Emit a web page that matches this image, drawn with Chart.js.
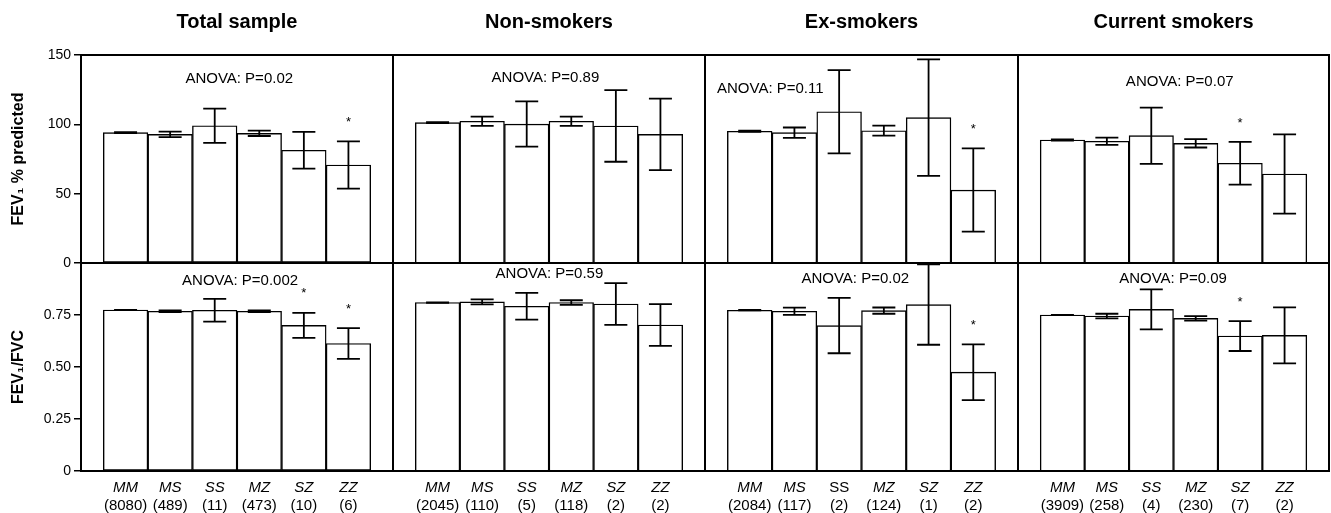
<!DOCTYPE html>
<html>
<head>
<meta charset="utf-8">
<script src="https://cdn.jsdelivr.net/npm/chart.js@4.4.1/dist/chart.umd.min.js"></script>
<style>
  body { margin: 0; background: #fff; width: 1331px; height: 513px; overflow: hidden; position: relative; }
  canvas { position: absolute; }
</style>
</head>
<body>
<canvas id="t0" width="394" height="276" style="left:0;top:0"></canvas>
<canvas id="t1" width="314" height="276" style="left:392px;top:0"></canvas>
<canvas id="t2" width="315" height="276" style="left:704px;top:0"></canvas>
<canvas id="t3" width="313" height="276" style="left:1017px;top:0"></canvas>
<canvas id="b0" width="394" height="263" style="left:0;top:250px"></canvas>
<canvas id="b1" width="314" height="263" style="left:392px;top:250px"></canvas>
<canvas id="b2" width="315" height="263" style="left:704px;top:250px"></canvas>
<canvas id="b3" width="313" height="263" style="left:1017px;top:250px"></canvas>
<script>
// genotypes et groupes
const genotypes = ['MM', 'MS', 'SS', 'MZ', 'SZ', 'ZZ'];
const groups = ['Total sample', 'Non-smokers', 'Ex-smokers', 'Current smokers'];

// effectifs (n) par groupe
const countsTotal = [8080, 489, 11, 473, 10, 6];
const countsNon = [2045, 110, 5, 118, 2, 2];
const countsEx = [2084, 117, 2, 124, 1, 2];
const countsCur = [3909, 258, 4, 230, 7, 2];

// FEV1 % predicted : moyenne et erreur
const fev1Total = [94.0, 92.8, 99.0, 93.5, 81.3, 70.7];
const fev1TotalErr = [0.4, 2.0, 12.4, 1.9, 13.2, 17.0];
const fev1Non = [101.2, 102.2, 100.2, 102.2, 98.8, 92.8];
const fev1NonErr = [0.4, 3.3, 16.3, 3.3, 25.8, 25.8];
const fev1Ex = [95.0, 94.0, 109.1, 95.4, 104.8, 52.6];
const fev1ExErr = [0.5, 3.7, 30.0, 3.6, 42.0, 30.0];
const fev1Cur = [88.7, 87.8, 91.8, 86.3, 71.9, 64.2];
const fev1CurErr = [0.4, 2.6, 20.3, 3.0, 15.4, 28.6];

// FEV1/FVC : moyenne et erreur
const ratioTotal = [0.774, 0.768, 0.773, 0.768, 0.700, 0.613];
const ratioTotalErr = [0.001, 0.004, 0.055, 0.004, 0.060, 0.074];
const ratioNon = [0.810, 0.813, 0.792, 0.810, 0.803, 0.702];
const ratioNonErr = [0.001, 0.012, 0.064, 0.011, 0.100, 0.100];
const ratioEx = [0.773, 0.768, 0.699, 0.771, 0.800, 0.475];
const ratioExErr = [0.001, 0.017, 0.133, 0.015, 0.193, 0.134];
const ratioCur = [0.750, 0.745, 0.777, 0.734, 0.649, 0.652];
const ratioCurErr = [0.001, 0.011, 0.096, 0.011, 0.072, 0.135];

// tests
const fev1Anova = ['ANOVA: P=0.02', 'ANOVA: P=0.89', 'ANOVA: P=0.11', 'ANOVA: P=0.07'];
const ratioAnova = ['ANOVA: P=0.002', 'ANOVA: P=0.59', 'ANOVA: P=0.02', 'ANOVA: P=0.09'];
const fev1Stars = [[5], [], [5], [4]];
const ratioStars = [[4, 5], [], [5], [4]];
const uprightGenotypes = [[], [], ['SS'], []];

const groupCounts = [countsTotal, countsNon, countsEx, countsCur];
const fev1Means = [fev1Total, fev1Non, fev1Ex, fev1Cur];
const fev1Errs = [fev1TotalErr, fev1NonErr, fev1ExErr, fev1CurErr];
const ratioMeans = [ratioTotal, ratioNon, ratioEx, ratioCur];
const ratioErrs = [ratioTotalErr, ratioNonErr, ratioExErr, ratioCurErr];

// position du texte ANOVA (unités des axes)
const fev1AnovaAt = [[2.55, 132.7], [2.42, 133.6], [0.46, 125.5], [2.64, 130.7]];
const ratioAnovaAt = [[2.57, 0.914], [2.51, 0.946], [2.36, 0.922], [2.49, 0.922]];

Chart.defaults.font.family = '"Liberation Sans", Arial, sans-serif';
Chart.defaults.color = '#000';

const panelMarks = {
  id: 'panelMarks',
  afterDatasetsDraw(chart, args, o) {
    const { ctx, chartArea: a, scales: { x, y } } = chart;
    ctx.save();
    ctx.strokeStyle = '#000';
    ctx.lineWidth = 1.8;
    o.means.forEach((m, i) => {
      const px = x.getPixelForValue(i);
      const hi = y.getPixelForValue(m + o.errs[i]);
      const lo = y.getPixelForValue(m - o.errs[i]);
      ctx.beginPath();
      ctx.moveTo(px, hi); ctx.lineTo(px, lo);
      ctx.moveTo(px - 11.5, hi); ctx.lineTo(px + 11.5, hi);
      ctx.moveTo(px - 11.5, lo); ctx.lineTo(px + 11.5, lo);
      ctx.stroke();
    });
    ctx.fillStyle = '#000';
    ctx.textAlign = 'center';
    ctx.textBaseline = 'middle';
    ctx.font = '13px "Liberation Sans", Arial';
    o.stars.forEach(i => {
      ctx.fillText('*', x.getPixelForValue(i), y.getPixelForValue(o.means[i] + o.errs[i]) - 19);
    });
    ctx.font = '15px "Liberation Sans", Arial';
    ctx.fillText(o.anova, x.getPixelForValue(o.anovaAt[0]), y.getPixelForValue(o.anovaAt[1]));
    ctx.lineWidth = 2;
    ctx.strokeRect(a.left, a.top, a.right - a.left, a.bottom - a.top);
    ctx.restore();
  }
};

const barTicks = s => { s.ticks = genotypes.map((gt, i) => ({ value: i })); };

function makePanel(id, g, top) {
  const means = top ? fev1Means[g] : ratioMeans[g];
  const errs = top ? fev1Errs[g] : ratioErrs[g];
  const first = g === 0;

  const scales = {
    x: {
      type: 'linear', min: -1, max: 6, position: 'bottom', weight: 0,
      offset: false,
      display: !top,
      grid: { display: false, drawTicks: false, offset: false },
      border: { display: false },
      afterBuildTicks: barTicks,
      afterFit: s => { if (!top) s.height = 24; },
      ticks: {
        autoSkip: false, maxRotation: 0, padding: 8,
        font: c => ({
          size: 15,
          style: (c.tick && uprightGenotypes[g].includes(genotypes[c.tick.value])) ? 'normal' : 'italic'
        }),
        callback: v => genotypes[v]
      }
    },
    y: {
      min: 0, max: top ? 150 : 1,
      display: first,
      afterFit: s => { if (first) s.width = 81; },
      afterBuildTicks: s => { s.ticks = s.ticks.filter(t => top || t.value < 1); },
      grid: { display: true, drawOnChartArea: false, drawTicks: true, tickLength: 7, color: '#000', lineWidth: 1.5 },
      border: { display: false },
      ticks: {
        stepSize: top ? 50 : 0.25, padding: 3, font: { size: 14 },
        callback: v => top ? String(v) : (v === 0 ? '0' : v.toFixed(2))
      },
      title: {
        display: true, text: top ? 'FEV₁ % predicted' : 'FEV₁/FVC',
        font: { size: 16, weight: 'bold' }, padding: { top: 9, bottom: 0 }
      }
    }
  };
  if (!top) {
    scales.x2 = {
      type: 'linear', min: -1, max: 6, position: 'bottom', weight: 1,
      offset: false,
      grid: { display: false, drawTicks: false, offset: false },
      border: { display: false },
      afterBuildTicks: barTicks,
      afterFit: s => { s.height = 18; },
      ticks: {
        autoSkip: false, maxRotation: 0, padding: 2, font: { size: 15 },
        callback: v => '(' + groupCounts[g][v] + ')'
      }
    };
  }

  new Chart(document.getElementById(id), {
    type: 'bar',
    data: {
      datasets: [{
        data: means.map((v, i) => ({ x: i, y: v })),
        backgroundColor: '#fff',
        borderColor: '#000',
        borderWidth: 1.4,
        borderSkipped: false,
        barPercentage: 1,
        categoryPercentage: 1
      }]
    },
    options: {
      responsive: false,
      animation: false,
      layout: {
        padding: top ? { left: first ? 0 : 1, right: 1, top: 0, bottom: 13 }
                     : { left: first ? 0 : 1, right: 1, top: 13, bottom: 0 }
      },
      scales,
      plugins: {
        legend: { display: false },
        tooltip: { enabled: false },
        title: {
          display: top, text: groups[g], fullSize: false,
          font: { size: 20, weight: 'bold' }, padding: { top: 10, bottom: 21 }
        },
        panelMarks: {
          means, errs,
          stars: top ? fev1Stars[g] : ratioStars[g],
          anova: top ? fev1Anova[g] : ratioAnova[g],
          anovaAt: top ? fev1AnovaAt[g] : ratioAnovaAt[g]
        }
      }
    },
    plugins: [panelMarks]
  });
}

groups.forEach((name, g) => {
  makePanel('t' + g, g, true);
  makePanel('b' + g, g, false);
});
</script>
</body>
</html>
